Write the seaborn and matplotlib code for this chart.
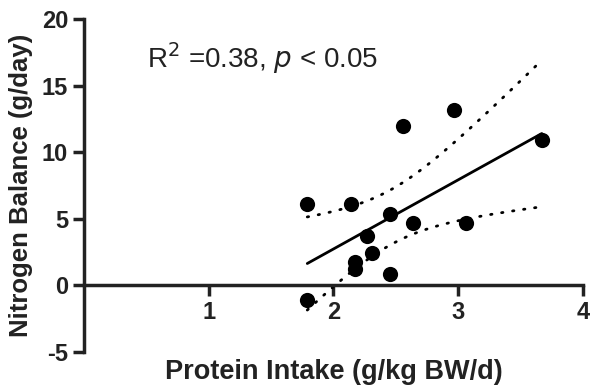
"""Nitrogen balance vs protein intake scatter with linear fit and 95% CI bands."""
import numpy as np
import matplotlib
matplotlib.use("Agg")
import matplotlib.pyplot as plt
import seaborn as sns

protein_intake = [1.79, 2.14, 2.56, 2.97, 3.67, 2.45, 2.64, 3.06, 2.27, 2.31, 2.17, 2.17, 2.45, 1.79]
nitrogen_balance = [6.15, 6.08, 12.0, 13.15, 10.9, 5.38, 4.65, 4.65, 3.7, 2.4, 1.75, 1.2, 0.83, -1.1]
x_ticks = [1, 2, 3, 4]
y_ticks = [-5, 0, 5, 10, 15, 20]
T_CRIT = 2.179  # t(0.975, df=12)

sns.set_theme(style="white")
plt.rcParams["font.family"] = ["Liberation Sans", "DejaVu Sans"]
plt.rcParams["axes.unicode_minus"] = False

x = np.array(protein_intake)
y = np.array(nitrogen_balance)
n = len(x)
slope, intercept = np.polyfit(x, y, 1)
resid = y - (slope * x + intercept)
s = np.sqrt(np.sum(resid ** 2) / (n - 2))
xs = np.linspace(x.min(), x.max(), 100)
fit = slope * xs + intercept
se = s * np.sqrt(1 / n + (xs - x.mean()) ** 2 / np.sum((x - x.mean()) ** 2))

fig = plt.figure(figsize=(5.9, 3.88), dpi=100)
ax = fig.add_axes([0.1424, 0.0928, 0.8456, 0.858])

sns.scatterplot(x=x, y=y, ax=ax, color="black", s=120, edgecolor="black", linewidth=0, zorder=3)
sns.lineplot(x=xs, y=fit, ax=ax, color="black", lw=2)
ax.plot(xs, fit + T_CRIT * se, color="black", lw=2, ls=(0, (0.5, 3.5)), dash_capstyle="round")
ax.plot(xs, fit - T_CRIT * se, color="black", lw=2, ls=(0, (0.5, 3.5)), dash_capstyle="round")

ax.set_xlim(0, 4)
ax.set_ylim(-5, 20)
ax.set_xticks(x_ticks)
ax.set_yticks(y_ticks)
ax.spines["bottom"].set_position(("data", 0))
ax.spines["top"].set_visible(False)
ax.spines["right"].set_visible(False)
for sp in ("left", "bottom"):
    ax.spines[sp].set_linewidth(2.5)
    ax.spines[sp].set_color("#222222")
ax.tick_params(axis="both", direction="out", length=8, width=2.5, color="#222222",
               labelsize=17, bottom=True, left=True)
for lab in ax.get_xticklabels() + ax.get_yticklabels():
    lab.set_fontweight("bold")
    lab.set_color("#222222")

ax.set_xlabel("Protein Intake (g/kg BW/d)", fontsize=19.5, fontweight="bold", color="#222222")
ax.set_ylabel("Nitrogen Balance (g/day)", fontsize=18.5, fontweight="bold", color="#222222", labelpad=6)
ax.xaxis.label.set_va("center")
ax.xaxis.set_label_coords(0.5, -0.06)

ax.text(0.505, 17.1, r"R$^2$ =0.38, $\it{p}$ < 0.05", fontsize=20, color="#222222", va="center")

fig.savefig("out.png", dpi=100)
